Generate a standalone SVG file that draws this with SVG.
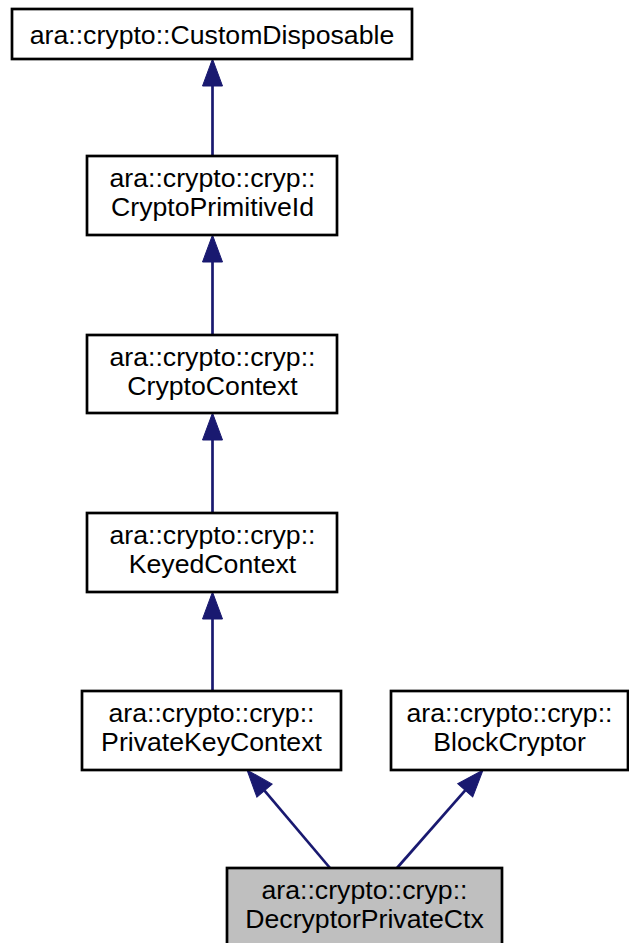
<svg xmlns="http://www.w3.org/2000/svg" width="629" height="943" viewBox="0 0 629 943">
  <style>
    .box { fill: #ffffff; stroke: #000000; stroke-width: 2.7; }
    .box.current { fill: #bfbfbf; }
    .label { font-family: "Liberation Sans", Arial, sans-serif; font-size: 26.67px; fill: #000000; text-anchor: middle; }
    .edge { fill: none; stroke: #191970; stroke-width: 2.7; marker-end: url(#inherit); }
  </style>
  <defs>
    <marker id="inherit" markerUnits="userSpaceOnUse" viewBox="0 -10 27 20" markerWidth="27" markerHeight="20" refX="0" refY="0" orient="auto" overflow="visible">
      <path d="M0,-10 L27,0 L0,10 Z" fill="#191970" stroke="#191970" stroke-width="1"/>
    </marker>
  </defs>
  <rect width="629" height="943" fill="#ffffff"/>

  <g id="edges">
    <line class="edge" x1="212.5" y1="156" x2="212.5" y2="86"/>
    <line class="edge" x1="212.5" y1="335" x2="212.5" y2="262"/>
    <line class="edge" x1="212.5" y1="513" x2="212.5" y2="440"/>
    <line class="edge" x1="212.5" y1="691" x2="212.5" y2="619"/>
    <line class="edge" x1="330" y1="868" x2="264.5" y2="790.6"/>
    <line class="edge" x1="397" y1="868" x2="465.2" y2="790.3"/>
  </g>

  <g id="node-CustomDisposable">
    <rect class="box" x="12" y="9" width="400" height="50"/>
    <text class="label" x="212" y="44">ara::crypto::CustomDisposable</text>
  </g>

  <g id="node-CryptoPrimitiveId">
    <rect class="box" x="87" y="156" width="250" height="79"/>
    <text class="label" x="212.5" y="187">ara::crypto::cryp::</text>
    <text class="label" x="212.5" y="216">CryptoPrimitiveId</text>
  </g>

  <g id="node-CryptoContext">
    <rect class="box" x="87" y="335" width="250" height="78"/>
    <text class="label" x="212.5" y="366">ara::crypto::cryp::</text>
    <text class="label" x="212.5" y="395">CryptoContext</text>
  </g>

  <g id="node-KeyedContext">
    <rect class="box" x="87" y="513" width="250" height="79"/>
    <text class="label" x="212.5" y="544">ara::crypto::cryp::</text>
    <text class="label" x="212.5" y="573">KeyedContext</text>
  </g>

  <g id="node-PrivateKeyContext">
    <rect class="box" x="82" y="691" width="259" height="79"/>
    <text class="label" x="211.5" y="722">ara::crypto::cryp::</text>
    <text class="label" x="211.5" y="751">PrivateKeyContext</text>
  </g>

  <g id="node-BlockCryptor">
    <rect class="box" x="391" y="691" width="237" height="79"/>
    <text class="label" x="509.5" y="722">ara::crypto::cryp::</text>
    <text class="label" x="509.5" y="751">BlockCryptor</text>
  </g>

  <g id="node-DecryptorPrivateCtx">
    <rect class="box current" x="227" y="868" width="275" height="82"/>
    <text class="label" x="364.5" y="899">ara::crypto::cryp::</text>
    <text class="label" x="364.5" y="928">DecryptorPrivateCtx</text>
  </g>
</svg>
